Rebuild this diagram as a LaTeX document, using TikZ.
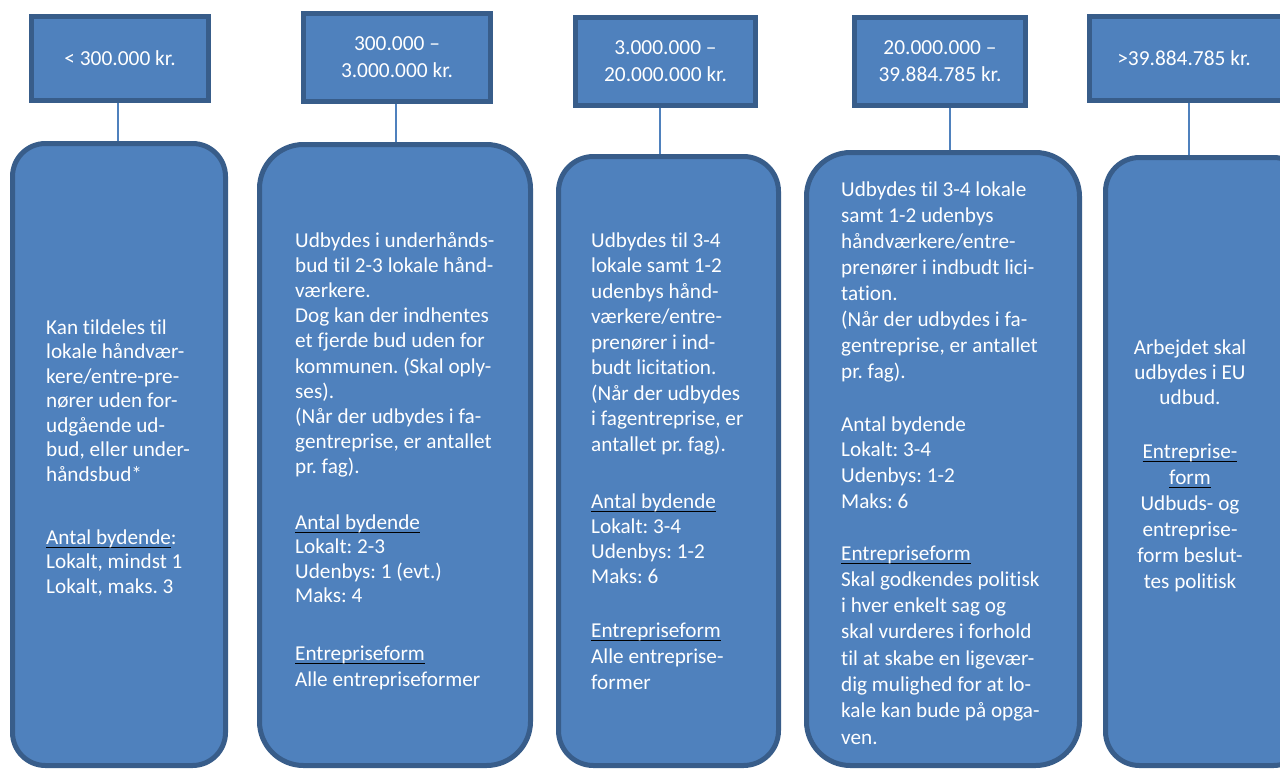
\documentclass[tikz,border=0pt]{standalone}
\usepackage{fontspec}
\setmainfont{Carlito}[Ligatures={NoCommon}]
\frenchspacing
\definecolor{fillc}{HTML}{4F81BD}
\definecolor{edgec}{HTML}{385D8A}
\newcommand\ulb[1]{\setbox0\hbox{#1}\rlap{\color{black}\rule[-4.2pt]{\wd0}{1.4pt}}\box0}
\newcommand\blk[1]{\vtop{\halign{##\hfil\cr#1\crcr}}}
\newcommand\cblk[1]{\vtop{\halign{\hfil##\hfil\cr#1\crcr}}}
\tikzset{
  topbox/.style={draw=edgec, line width=5pt, fill=fillc, text=white,
    font=\fontsize{21.4}{27}\selectfont, align=center, inner sep=0pt},
  bbox/.style={draw=edgec, line width=5pt, fill=fillc, inner sep=0pt},
  conn/.style={draw=fillc, line width=2pt},
  txt/.style={text=white, inner sep=0pt, anchor=base west},
  ctxt/.style={text=white, inner sep=0pt, anchor=base},
}
\begin{document}
\begin{tikzpicture}[x=1pt,y=-1pt]
\useasboundingbox (0,0) rectangle (1280,769);
\clip (0,0) rectangle (1280,769);

% top boxes
\node[topbox, minimum width=177pt, minimum height=84pt] (t1) at (120,58.5) {< 300.000 kr.};
\node[topbox, minimum width=187pt, minimum height=88pt] (t2) at (397,57.5) {300.000 –\\3.000.000 kr.};
\node[topbox, minimum width=180pt, minimum height=88pt] (t3) at (665.5,61.5) {3.000.000 –\\20.000.000 kr.};
\node[topbox, minimum width=171pt, minimum height=88pt] (t4) at (940,61.5) {20.000.000 –\\39.884.785 kr.};
\node[topbox, minimum width=199pt, minimum height=84pt] (t5) at (1189,58.5) {>39.884.785 kr.\hspace*{10pt}};

% bottom boxes
\node[bbox, rounded corners=33pt, minimum width=213pt, minimum height=622pt] (b1) at (119,454.5) {};
\node[bbox, rounded corners=44pt, minimum width=271pt, minimum height=621pt] (b2) at (395,455) {};
\node[bbox, rounded corners=35pt, minimum width=220pt, minimum height=609pt] (b3) at (668.5,461) {};
\node[bbox, rounded corners=44pt, minimum width=273pt, minimum height=613pt] (b4) at (943,459) {};
\node[bbox, rounded corners=34pt, minimum width=202pt, minimum height=608pt] (b5) at (1206.5,461.5) {};

% connectors
\coordinate (l1) at (118,0);
\coordinate (l2) at (396,0);
\coordinate (l3) at (660,0);
\coordinate (l4) at (950,0);
\coordinate (l5) at (1189,0);
\draw[conn] (t1.south -| l1) -- (b1.north -| l1);
\draw[conn] (t2.south -| l2) -- (b2.north -| l2);
\draw[conn] (t3.south -| l3) -- (b3.north -| l3);
\draw[conn] (t4.south -| l4) -- (b4.north -| l4);
\draw[conn] (t5.south -| l5) -- (b5.north -| l5);

% box 1 text
\node[txt, font=\fontsize{21.2}{24.5}\selectfont] (x1a) at (46,334) {\blk{Kan tildeles til\cr lokale håndvær-\cr kere/entre-pre-\cr nører uden for-\cr udgående ud-\cr bud, eller under-\cr håndsbud*}};
\node[txt, font=\fontsize{21.2}{24.5}\selectfont] (x1b) at (46,544) {\blk{\ulb{Antal bydende}:\cr Lokalt, mindst 1\cr Lokalt, maks. 3}};

% box 2 text
\node[txt, font=\fontsize{21.2}{25.2}\selectfont] (x2a) at (295,247) {\blk{Udbydes i underhånds-\cr bud til 2-3 lokale hånd-\cr værkere.\cr Dog kan der indhentes\cr et fjerde bud uden for\cr kommunen. (Skal oply-\cr ses).\cr (Når der udbydes i fa-\cr gentreprise, er antallet\cr pr. fag).}};
\node[txt, font=\fontsize{21.2}{24.5}\selectfont] (x2b) at (295,529) {\blk{\ulb{Antal bydende}\cr Lokalt: 2-3\cr Udenbys: 1 (evt.)\cr Maks: 4}};
\node[txt, font=\fontsize{21.2}{26}\selectfont] (x2c) at (295,660) {\blk{\ulb{Entrepriseform}\cr Alle entrepriseformer}};

% box 3 text
\node[txt, font=\fontsize{21.2}{25.5}\selectfont] (x3a) at (591,247) {\blk{Udbydes til 3-4\cr lokale samt 1-2\cr udenbys hånd-\cr værkere/entre-\cr prenører i ind-\cr budt licitation.\cr (Når der udbydes\cr i fagentreprise, er\cr antallet pr. fag).}};
\node[txt, font=\fontsize{21.2}{25}\selectfont] (x3b) at (591,508) {\blk{\ulb{Antal bydende}\cr Lokalt: 3-4\cr Udenbys: 1-2\cr Maks: 6}};
\node[txt, font=\fontsize{21.2}{26}\selectfont] (x3c) at (591,637) {\blk{\ulb{Entrepriseform}\cr Alle entreprise-\cr former}};

% box 4 text
\node[txt, font=\fontsize{21.2}{26}\selectfont] (x4a) at (841,196) {\blk{Udbydes til 3-4 lokale\cr samt 1-2 udenbys\cr håndværkere/entre-\cr prenører i indbudt lici-\cr tation.\cr (Når der udbydes i fa-\cr gentreprise, er antallet\cr pr. fag).}};
\node[txt, font=\fontsize{21.2}{25.7}\selectfont] (x4b) at (841,431) {\blk{Antal bydende\cr Lokalt: 3-4\cr Udenbys: 1-2\cr Maks: 6}};
\node[txt, font=\fontsize{21.2}{26.3}\selectfont] (x4c) at (841,560) {\blk{\ulb{Entrepriseform}\cr Skal godkendes politisk\cr i hver enkelt sag og\cr skal vurderes i forhold\cr til at skabe en ligevær-\cr dig mulighed for at lo-\cr kale kan bude på opga-\cr ven.}};

% box 5 text
\node[ctxt, font=\fontsize{21.2}{25}\selectfont] (x5a) at (1190,354) {\cblk{Arbejdet skal\cr udbydes i EU\cr udbud.}};
\node[ctxt, font=\fontsize{21.2}{26}\selectfont] (x5b) at (1190,458) {\cblk{\ulb{Entreprise-}\cr \ulb{form}\cr Udbuds- og\cr entreprise-\cr form beslut-\cr tes politisk}};
\end{tikzpicture}
\end{document}
